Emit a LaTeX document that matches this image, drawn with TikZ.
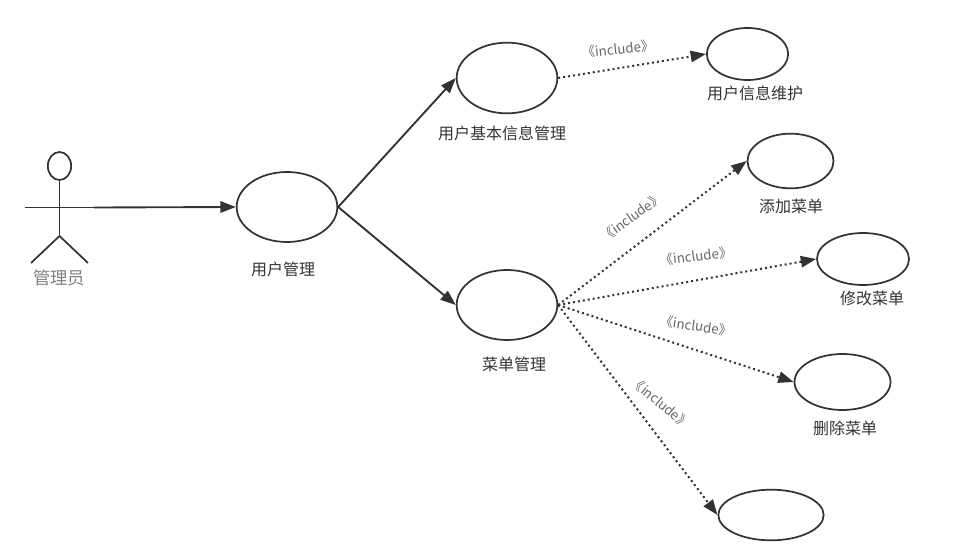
\documentclass[tikz,border=0pt]{standalone}
\usepackage{fontspec}
\setmainfont{Noto Sans CJK SC}
\usetikzlibrary{positioning,shapes.geometric,arrows.meta}
\definecolor{inkdark}{HTML}{333333}
\tikzset{>={Triangle[length=11.5pt,width=8.5pt]}}
\tikzset{usecase/.style={draw=inkdark,line width=1.3pt,ellipse,inner sep=0pt}}
\tikzset{limb/.style={draw=inkdark,line width=1.3pt}}
\tikzset{assoc/.style={->,draw=inkdark,line width=1.4pt}}
\tikzset{incl/.style={->,draw=inkdark,line width=1.5pt,dash pattern=on 1.5pt off 2.25pt}}
\tikzset{caselabel/.style={font=\fontsize{12pt}{14pt}\selectfont,text=inkdark,inner sep=0pt}}
\tikzset{incllabel/.style={font=\fontsize{10pt}{12pt}\selectfont,text=black!60,inner sep=0pt}}

\begin{document}
\begin{tikzpicture}[x=0.75pt,y=-0.75pt]
\useasboundingbox (0,0) rectangle (972,549);
% actor
\node[usecase,minimum width=17.5pt,minimum height=21pt] (head) at (59.5,166) {};
\coordinate (hip) at (59.5,236);
\coordinate (handl) at (25,207.5);
\coordinate (handr) at (94,207.5);
\coordinate (footl) at (31,263);
\coordinate (footr) at (88,263);
\draw[limb] (head) -- (hip);
\draw[limb] (handl) -- (handr);
\draw[limb] (footl) -- (hip) -- (footr);
\node[font=\fontsize{13pt}{15pt}\selectfont,text=black!50,inner sep=0pt] (actorname) at (59,278) {管理员};
% use cases
\node[usecase,minimum width=75.5pt,minimum height=52.5pt] (usermgr) at (287,207) {};
\node[usecase,minimum width=75.5pt,minimum height=53pt] (userbase) at (507,78) {};
\node[usecase,minimum width=75.5pt,minimum height=52.5pt] (menumgr) at (507,305) {};
\node[usecase,minimum width=61pt,minimum height=39pt] (userinfo) at (747.5,54) {};
\node[usecase,minimum width=64.5pt,minimum height=41pt] (menuadd) at (790.5,161) {};
\node[usecase,minimum width=69pt,minimum height=39pt] (menuedit) at (863,259) {};
\node[usecase,minimum width=72pt,minimum height=42pt] (menudel) at (842.5,382) {};
\node[usecase,minimum width=79pt,minimum height=38pt] (menuother) at (771,515) {};
% texts
\node[caselabel] (usermgrname) at (283,269) {用户管理};
\node[caselabel] (userbasename) at (502,133) {用户基本信息管理};
\node[caselabel] (menumgrname) at (514,364) {菜单管理};
\node[caselabel] (userinfoname) at (755,93) {用户信息维护};
\node[caselabel] (menuaddname) at (791,206) {添加菜单};
\node[caselabel] (menueditname) at (872,298) {修改菜单};
\node[caselabel] (menudelname) at (845,428) {删除菜单};
% connectors
\draw[assoc] (handr) -- (usermgr.west);
\draw[assoc] (usermgr.east) -- (userbase.west);
\draw[assoc] (usermgr.east) -- (menumgr.west);
\draw[incl] (userbase.east) -- (userinfo.west);
\draw[incl] (menumgr.east) -- (menuadd.west);
\draw[incl] (menumgr.east) -- (menuedit.west);
\draw[incl] (menumgr.east) -- (menudel.west);
\draw[incl] (menumgr.east) -- (menuother.west);
\node[incllabel,rotate=6] (incla) at (618,49) {《include》};
\node[incllabel,rotate=35] (inclb) at (632,217) {《include》};
\node[incllabel,rotate=7] (inclc) at (696,256) {《include》};
\node[incllabel,rotate=-8] (incld) at (696,326) {《include》};
\node[incllabel,rotate=-40] (incle) at (661,403) {《include》};
\end{tikzpicture}
\end{document}
